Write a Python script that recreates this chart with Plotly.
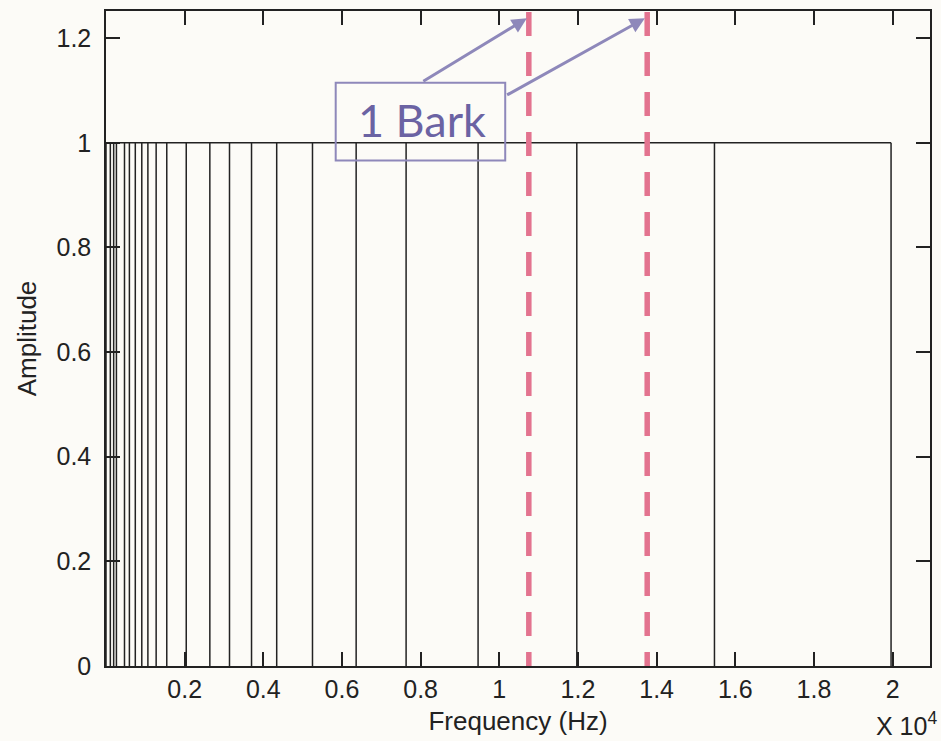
import plotly.graph_objects as go

# Critical-band (Bark) edges in Hz
band_edges = [0, 110, 195, 265, 470, 595, 745, 910, 1065, 1275, 1545, 2040,
              2640, 3140, 3700, 4340, 5250, 6360, 7630, 9460, 11970, 15470, 19960]
band_amplitude = 1.0
highlight_edges = [10750, 13760]

x_tickvals = [2000, 4000, 6000, 8000, 10000, 12000, 14000, 16000, 18000, 20000]
x_ticktext = ["0.2", "0.4", "0.6", "0.8", "1", "1.2", "1.4", "1.6", "1.8", "2"]
y_tickvals = [0, 0.2, 0.4, 0.6, 0.8, 1.0, 1.2]
y_ticktext = ["0", "0.2", "0.4", "0.6", "0.8", "1", "1.2"]

label_text = "1 Bark"
x_title = "Frequency (Hz)"
y_title = "Amplitude"

BG = "#FCFBF7"
INK = "#222222"
LAV = "#8E88BA"
PURPLE = "#6B63A3"
PINK = "#E3738F"

# Build band outline: verticals and top line
xs, ys = [], []
for e in band_edges:
    xs += [e, e, None]
    ys += [0, band_amplitude, None]
xs += [band_edges[0], band_edges[-1], None]
ys += [band_amplitude, band_amplitude, None]

fig = go.Figure()
fig.add_trace(go.Scatter(x=xs, y=ys, mode="lines",
                         line=dict(color=INK, width=1.5),
                         hoverinfo="skip", showlegend=False))

for h in highlight_edges:
    fig.add_trace(go.Scatter(x=[h, h], y=[1.25, 0], mode="lines",
                             line=dict(color=PINK, width=5.5, dash="24px,16px"),
                             hoverinfo="skip", showlegend=False))

# Label box
fig.add_shape(type="rect", xref="x", yref="y", x0=5840, x1=10150,
              y0=0.966, y1=1.115, line=dict(color=LAV, width=2),
              fillcolor="rgba(0,0,0,0)")
fig.add_annotation(x=8040, y=1.043, xref="x", yref="y", text=label_text,
                   showarrow=False,
                   font=dict(family="Lato", size=45, color=PURPLE))

# Arrows
fig.add_annotation(x=10700, y=1.238, ax=8030, ay=1.116, xref="x", yref="y",
                   axref="x", ayref="y", text="", showarrow=True,
                   arrowhead=2, arrowsize=1.0, arrowwidth=3, arrowcolor=LAV)
fig.add_annotation(x=13700, y=1.238, ax=10160, ay=1.09, xref="x", yref="y",
                   axref="x", ayref="y", text="", showarrow=True,
                   arrowhead=2, arrowsize=1.0, arrowwidth=3, arrowcolor=LAV)

# Exponent note
fig.add_annotation(x=1.0, y=0, xref="paper", yref="paper", yshift=-40,
                   xshift=9, xanchor="right", yanchor="top",
                   text="X 10<sup>4</sup>", showarrow=False,
                   font=dict(family="Liberation Sans", size=25, color=INK))

fig.update_layout(
    width=941, height=741,
    margin=dict(l=106, r=9, t=10, b=75),
    paper_bgcolor=BG, plot_bgcolor=BG,
    font=dict(family="Liberation Sans", size=25, color=INK),
    xaxis=dict(range=[0, 20950], tickvals=x_tickvals, ticktext=x_ticktext,
               ticks="inside", ticklen=14, tickwidth=1.5, tickcolor=INK,
               showline=True, linecolor=INK, linewidth=1.5, mirror="ticks",
               showgrid=False, zeroline=False,
               title=dict(text=x_title, standoff=10, font=dict(size=26)),
               tickfont=dict(size=25)),
    yaxis=dict(range=[0, 1.252], tickvals=y_tickvals, ticktext=y_ticktext,
               ticks="inside", ticklen=14, tickwidth=1.5, tickcolor=INK,
               showline=True, linecolor=INK, linewidth=1.5, mirror="ticks",
               showgrid=False, zeroline=False, ticklabelstandoff=8,
               title=dict(text=y_title, standoff=12, font=dict(size=26)),
               tickfont=dict(size=25)),
)

fig.write_html("out.html")
